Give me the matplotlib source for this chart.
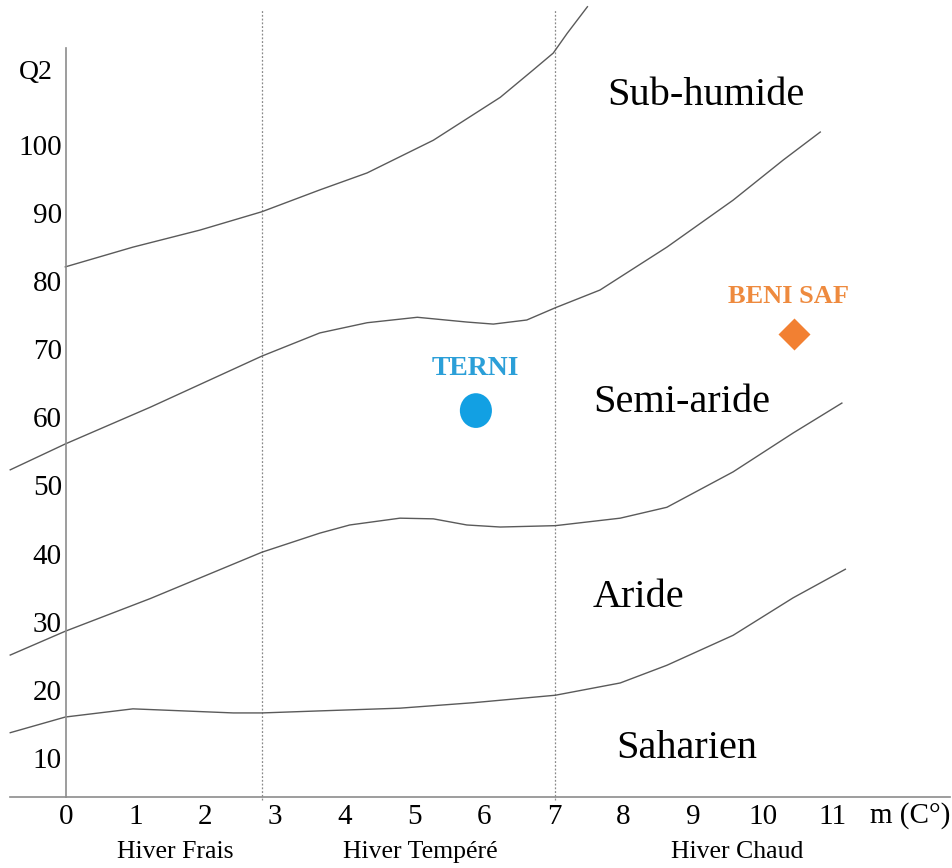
import numpy as np
import matplotlib
matplotlib.use("Agg")
import matplotlib.pyplot as plt
from matplotlib.patches import Ellipse

plt.rcParams['font.family'] = ['Liberation Serif', 'DejaVu Serif']

# EMBERGER CLIMAGRAM DATA (m in C°, Q2)
curve_humid_m = [-0.01, 0.96, 1.92, 2.81, 3.64, 4.32, 5.27, 6.23, 6.70, 6.99, 7.19, 7.48]
curve_humid_q = [82.1, 85.0, 87.5, 90.2, 93.4, 95.9, 100.7, 107.0, 111.0, 113.5, 116.4, 120.3]

curve_semiarid_m = [-0.80, -0.01, 1.21, 2.81, 3.64, 4.32, 5.04, 5.75, 6.13, 6.61, 7.02, 7.66, 8.62, 9.57, 10.29, 10.82]
curve_semiarid_q = [52.3, 56.1, 61.5, 69.0, 72.4, 73.9, 74.7, 74.0, 73.7, 74.3, 76.1, 78.7, 85.0, 91.9, 97.8, 101.9]

curve_arid_m = [-0.80, -0.01, 1.21, 2.81, 3.64, 4.07, 4.79, 5.27, 5.75, 6.23, 7.02, 7.95, 8.62, 9.57, 10.43, 11.13]
curve_arid_q = [25.1, 28.6, 33.4, 40.2, 43.0, 44.2, 45.2, 45.1, 44.2, 43.9, 44.1, 45.2, 46.8, 52.0, 57.7, 62.1]

curve_sahara_m = [-0.80, -0.01, 0.96, 1.68, 2.40, 2.81, 3.64, 4.79, 5.84, 7.02, 7.95, 8.62, 9.57, 10.43, 11.18]
curve_sahara_q = [13.7, 16.0, 17.2, 16.9, 16.6, 16.6, 16.9, 17.3, 18.1, 19.2, 21.0, 23.6, 28.0, 33.5, 37.7]

winter_bounds = [2.81, 7.02]
winter_names = ["Hiver Frais", "Hiver Tempéré", "Hiver Chaud"]
winter_label_m = [1.56, 5.08, 9.63]

zone_names = ["Sub-humide", "Semi-aride", "Aride", "Saharien"]
zone_m = [9.18, 8.84, 8.21, 8.91]
zone_q = [105.9, 60.8, 32.2, 10.0]

x_ticks = list(range(0, 12))
y_ticks = list(range(10, 101, 10))

terni_m, terni_q = 5.88, 61.0
benisaf_m, benisaf_q = 10.44, 72.2

# FIGURE
fig = plt.figure(figsize=(9.52, 8.68), dpi=100)
ax = fig.add_axes([0, 0, 1, 1])
ax.set_xlim(-0.947, 12.71)
ax.set_ylim(-6.17, 121.29)

# AXES LINES
for side in ['top', 'right']:
    ax.spines[side].set_visible(False)
ax.spines['left'].set_position(('data', 0))
ax.spines['left'].set_bounds(4.26, 114.2)
ax.spines['bottom'].set_position(('data', 4.26))
ax.spines['bottom'].set_bounds(-0.8, 12.68)
for side in ['left', 'bottom']:
    ax.spines[side].set_color('#8c8c8c')
    ax.spines[side].set_linewidth(1.2)

ax.set_xticks(x_ticks)
ax.set_yticks(y_ticks)
ax.tick_params(axis='y', length=0, pad=3, labelsize=21)
ax.tick_params(axis='x', length=0, pad=5, labelsize=21)

# WINTER LIMITS
for b in winter_bounds:
    ax.plot([b, b], [3.8, 120], color='#8a8a8a', lw=0.9, linestyle=(0, (1.5, 1.5)))

# BIOCLIMATIC CURVES
for m, q in [(curve_humid_m, curve_humid_q), (curve_semiarid_m, curve_semiarid_q),
             (curve_arid_m, curve_arid_q), (curve_sahara_m, curve_sahara_q)]:
    ax.plot(m, q, color='#5a5a5a', lw=1.0)

# LABELS
ax.text(-0.43, 110.6, "Q2", fontsize=20, ha='center', va='center')
ax.text(12.11, 1.6, "m (C°)", fontsize=21, ha='center', va='center')
for name, m in zip(winter_names, winter_label_m):
    ax.text(m, -3.8, name, fontsize=18.5, ha='center', va='center')
for name, m, q in zip(zone_names, zone_m, zone_q):
    ax.text(m, q, name, fontsize=29, ha='center', va='baseline')

# STATIONS
ax.add_patch(Ellipse((terni_m, terni_q), 0.46, 5.1, color='#12a0e3', lw=0))
ax.text(terni_m - 0.01, 66.2, "TERNI", fontsize=20, fontweight='bold',
        color='#2b9fd8', ha='center', va='baseline')
ax.plot([benisaf_m], [benisaf_q], marker='D', markersize=16.5, color='#f28032', mec='none')
ax.text(10.36, 76.8, "BENI SAF", fontsize=19, fontweight='bold',
        color='#ee8a3e', ha='center', va='baseline')

fig.savefig("out.png", dpi=100)
